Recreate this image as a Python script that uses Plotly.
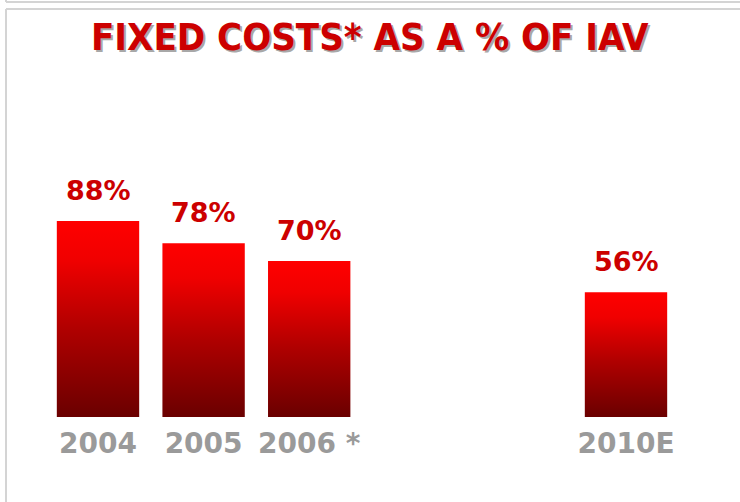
import plotly.graph_objects as go

categories = ["2004", "2005", "2006 *", "2010E"]
positions = [0, 1, 2, 5]
values = [88, 78, 70, 56]
value_labels = ["88%", "78%", "70%", "56%"]
title_text = "FIXED COSTS* AS A % OF IAV"

W, H = 740, 502
bar_w = 0.78
red = "#cc0000"

fig = go.Figure()

for p, v in zip(positions, values):
    x0, x1 = p - bar_w / 2, p + bar_w / 2
    fig.add_trace(go.Scatter(
        x=[x0, x1, x1, x0, x0], y=[0, 0, v, v, 0],
        mode="lines", line=dict(width=0), fill="toself",
        fillgradient=dict(type="vertical", start=0, stop=v,
                          colorscale=[[0, "#6a0000"], [0.45, "#b00000"], [0.8, "#f00000"], [1, "#ff0000"]]),
        hoverinfo="skip", showlegend=False))

for p, v, t in zip(positions, values, value_labels):
    fig.add_annotation(x=p, y=v, text=t, showarrow=False, yanchor="bottom", yshift=13,
                       font=dict(family="DejaVu Sans", size=27, color=red, weight="bold"))

fig.add_annotation(x=370 / W, y=1 - 37 / H, xref="paper", yref="paper", text=title_text,
                   showarrow=False, xanchor="center", yanchor="middle",
                   font=dict(family="DejaVu Sans Condensed", size=38, color=red, weight="bold",
                             shadow="2px 2px 0px #a8a8a8"))

px_per_unit = (417 - 221) / 88.0
y_top = 417 / px_per_unit
x0px, step = 98, 105.6
xr = [(0 - x0px) / step, (W - x0px) / step]

line = dict(color="#d4d4d4", width=2)
shapes = [
    dict(type="line", xref="paper", yref="paper", x0=6 / W, x1=1, y0=1 - 2 / H, y1=1 - 2 / H, line=line),
    dict(type="line", xref="paper", yref="paper", x0=6 / W, x1=6 / W, y0=1, y1=1 - 2 / H, line=line),
    dict(type="line", xref="paper", yref="paper", x0=6 / W, x1=1, y0=1 - 9 / H, y1=1 - 9 / H, line=line),
    dict(type="line", xref="paper", yref="paper", x0=6 / W, x1=6 / W, y0=1 - 9 / H, y1=0, line=line),
]

fig.update_layout(
    width=W, height=H, margin=dict(l=0, r=0, t=0, b=0),
    paper_bgcolor="white", plot_bgcolor="rgba(0,0,0,0)",
    shapes=shapes, showlegend=False,
    xaxis=dict(range=xr, tickmode="array", tickvals=positions, ticktext=categories,
               showgrid=False, zeroline=False, showline=False, ticks="outside", ticklen=1,
               tickcolor="rgba(0,0,0,0)",
               tickfont=dict(family="DejaVu Sans", size=28, color="#9a9a9a", weight="bold")),
    yaxis=dict(range=[0, y_top], domain=[(H - 417) / H, 1], visible=False),
)

fig.write_html("out.html")
